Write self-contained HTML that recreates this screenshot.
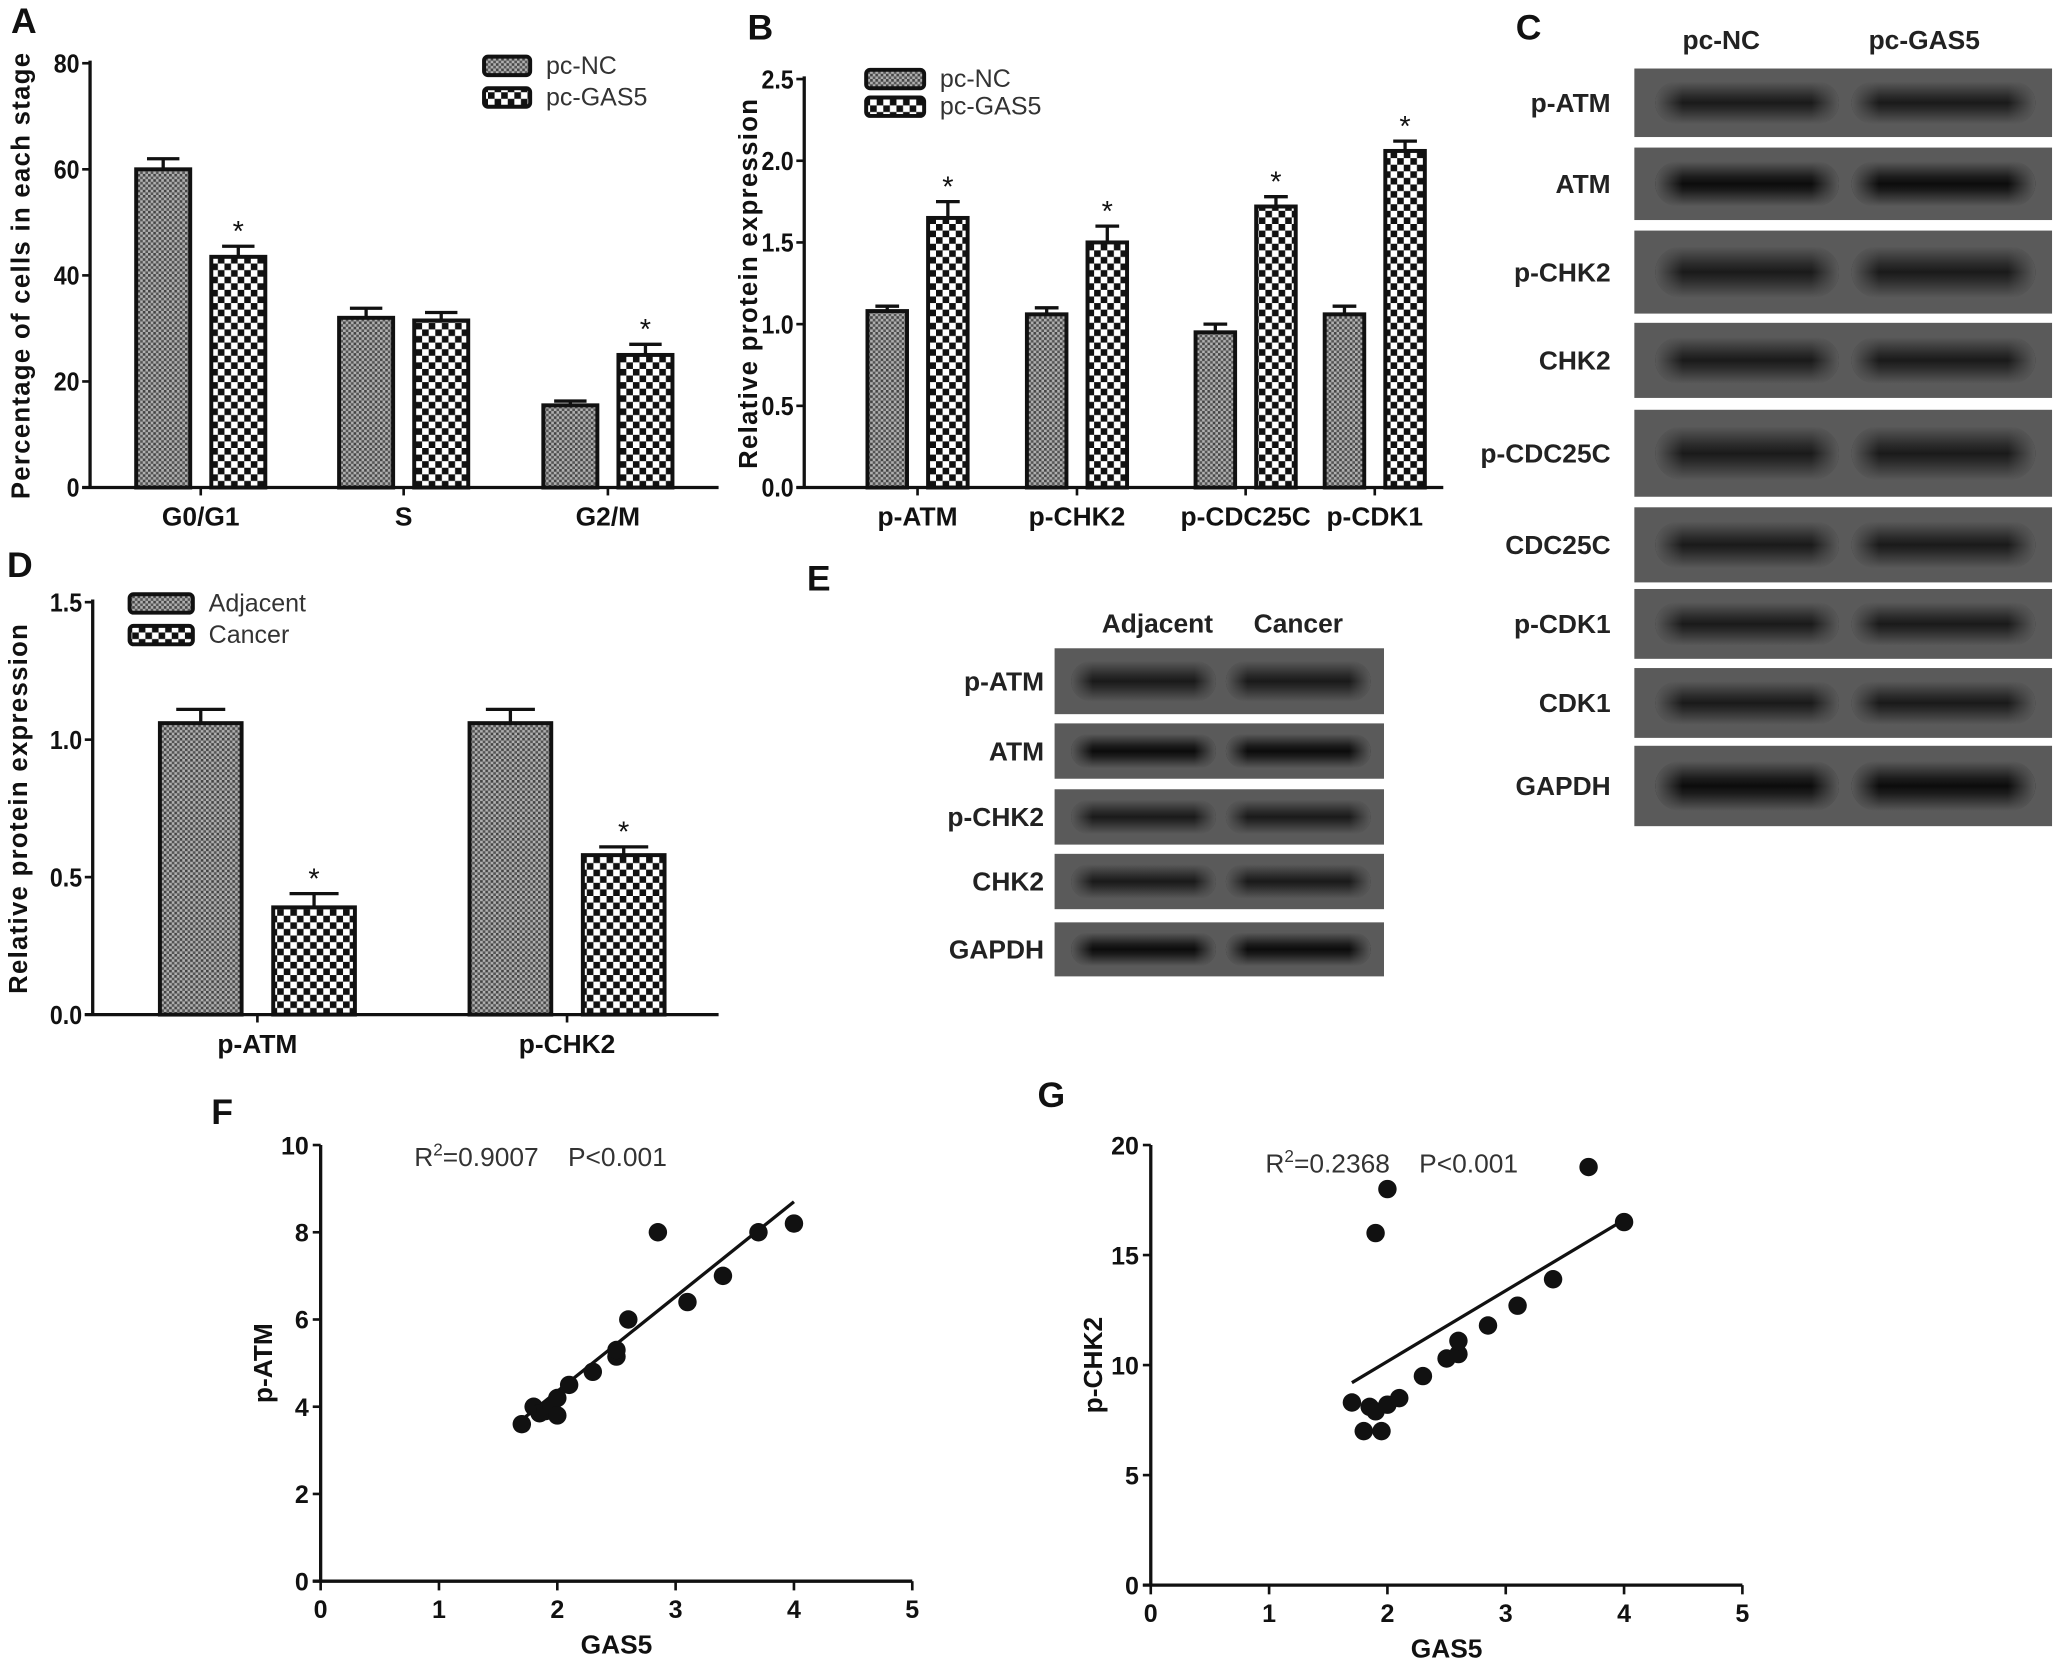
<!DOCTYPE html>
<html><head><meta charset="utf-8"><style>
html,body{margin:0;padding:0;background:#fff;}
svg{display:block;font-family:"Liberation Sans",Arial,sans-serif;}
</style></head><body>
<svg id="fig" width="2067" height="1680" viewBox="0 0 1568 1275" xmlns="http://www.w3.org/2000/svg">
<defs>
<pattern id="pNC" width="4" height="4" patternUnits="userSpaceOnUse"><rect width="4" height="4" fill="#b0b0b0"/><rect width="2" height="2" fill="#444"/><rect x="2" y="2" width="2" height="2" fill="#555"/></pattern>
<pattern id="pGA" width="10" height="10" patternUnits="userSpaceOnUse"><rect width="10" height="10" fill="#fff"/><rect width="5" height="5" fill="#111"/><rect x="5" y="5" width="5" height="5" fill="#111"/></pattern>
<linearGradient id="bandV" x1="0" y1="0" x2="0" y2="1"><stop offset="0" stop-color="#5a5a5a"/><stop offset="0.35" stop-color="#2a2a2a"/><stop offset="0.5" stop-color="#1a1a1a"/><stop offset="0.65" stop-color="#2a2a2a"/><stop offset="1" stop-color="#5a5a5a"/></linearGradient>
<linearGradient id="bandH" x1="0" y1="0" x2="1" y2="0"><stop offset="0" stop-color="#5a5a5a" stop-opacity="1"/><stop offset="0.15" stop-color="#5a5a5a" stop-opacity="0"/><stop offset="0.85" stop-color="#5a5a5a" stop-opacity="0"/><stop offset="1" stop-color="#5a5a5a" stop-opacity="1"/></linearGradient>
<linearGradient id="bandVd" x1="0" y1="0" x2="0" y2="1"><stop offset="0" stop-color="#5a5a5a"/><stop offset="0.35" stop-color="#1c1c1c"/><stop offset="0.5" stop-color="#0c0c0c"/><stop offset="0.65" stop-color="#1c1c1c"/><stop offset="1" stop-color="#5a5a5a"/></linearGradient>
</defs>
</svg>
<script>
// ---- data ----
const aCats = ["G0/G1","S","G2/M"];
const aNC = [60,32,15.5];
const aNCerr = [2,1.8,0.8];
const aGA = [43.5,31.5,25];
const aGAerr = [2,1.5,2];
const aSig = [true,false,true];
const aTicks = [0,20,40,60,80];

const bCats = ["p-ATM","p-CHK2","p-CDC25C","p-CDK1"];
const bNC = [1.08,1.06,0.95,1.06];
const bNCerr = [0.03,0.04,0.05,0.05];
const bGA = [1.65,1.5,1.72,2.06];
const bGAerr = [0.1,0.1,0.06,0.06];
const bTicks = [0,0.5,1.0,1.5,2.0,2.5];

const dCats = ["p-ATM","p-CHK2"];
const dAdj = [1.06,1.06];
const dAdjErr = [0.05,0.05];
const dCan = [0.39,0.58];
const dCanErr = [0.05,0.03];
const dTicks = [0,0.5,1.0,1.5];

const fX = [1.7,1.8,1.85,1.9,1.95,2,2,2.1,2.3,2.5,2.5,2.6,2.85,3.1,3.4,3.7,4];
const fY = [3.6,4,3.85,3.9,4,4.2,3.8,4.5,4.8,5.15,5.3,6,8,6.4,7,8,8.2];
const fLine = [[1.7,3.7],[4,8.7]];
const fYTicks = [0,2,4,6,8,10];
const gX = [1.7,1.8,1.85,1.9,1.9,1.95,2,2,2.1,2.3,2.5,2.6,2.6,2.85,3.1,3.4,3.7,4];
const gY = [8.3,7,8.1,16,7.9,7,18,8.2,8.5,9.5,10.3,10.5,11.1,11.8,12.7,13.9,19,16.5];
const gLine = [[1.7,9.2],[4,16.6]];
const gYTicks = [0,5,10,15,20];
const xTicksSc = [0,1,2,3,4,5];

const cRows = ["p-ATM","ATM","p-CHK2","CHK2","p-CDC25C","CDC25C","p-CDK1","CDK1","GAPDH"];
const eRows = ["p-ATM","ATM","p-CHK2","CHK2","GAPDH"];

// ---- helpers ----
const NS="http://www.w3.org/2000/svg";
const svg=document.getElementById('fig');
function el(tag,attrs,parent){const e=document.createElementNS(NS,tag);for(const k in attrs)e.setAttribute(k,attrs[k]);(parent||svg).appendChild(e);return e;}
function txt(s,x,y,size,opts,parent){const e=el('text',Object.assign({x:x,y:y,'font-size':size,fill:'#111'},opts||{}),parent);e.textContent=s;return e;}
function grp(name){const g=el('g',{});return g;}

function barChart(cfg){
  const g=grp(cfg.name);
  const ys=v=>cfg.y0-(v-cfg.ymin)*(cfg.y0-cfg.y1)/(cfg.ymax-cfg.ymin);
  const ya=el('line',{x1:cfg.ax,y1:cfg.y1-2,x2:cfg.ax,y2:cfg.y0,stroke:'#111','stroke-width':2.5},g);
  
  const xa=el('line',{x1:cfg.ax-6,y1:cfg.y0,x2:cfg.axEnd,y2:cfg.y0,stroke:'#111','stroke-width':2.5},g);
  
  cfg.ticks.forEach(t=>{
    const y=ys(t);
    el('line',{x1:cfg.ax-6,y1:y,x2:cfg.ax,y2:y,stroke:'#111','stroke-width':2},g);
    const tl=txt(cfg.fmt(t),cfg.ax-8,y+7,20,{'text-anchor':'end','font-weight':'bold',transform:`translate(${cfg.ax-8} ${y}) scale(0.88 1) translate(${-(cfg.ax-8)} ${-y})`},g);
    
  });
  const yt=txt(cfg.ytitle,0,0,19.5,{'text-anchor':'middle','font-weight':'bold','letter-spacing':'1',transform:`translate(${cfg.ytx} ${(cfg.y0+cfg.y1)/2}) rotate(-90)`},g);
  
  cfg.cats.forEach((c,i)=>{
    const cx=cfg.cx[i];
    el('line',{x1:cx,y1:cfg.y0,x2:cx,y2:cfg.y0+6,stroke:'#111','stroke-width':2},g);
    const cl=txt(c,cx,cfg.y0+29,20,{'text-anchor':'middle','font-weight':'bold'},g);
    
    [[cfg.s1,cfg.e1,'url(#pNC)',-1,cfg.sig1],[cfg.s2,cfg.e2,'url(#pGA)',1,cfg.sig2]].forEach(([s,e,fill,side,sig],k)=>{
      const x=cx+side*cfg.gap-(side<0?cfg.bw:0);
      const top=ys(s[i]);
      const ex=x+cfg.bw/2, et=ys(s[i]+e[i]);
      const eb=el('line',{x1:ex,y1:et,x2:ex,y2:top,stroke:'#111','stroke-width':2.5},g);
      
      el('line',{x1:ex-cfg.bw*0.3,y1:et,x2:ex+cfg.bw*0.3,y2:et,stroke:'#111','stroke-width':2.5},g);
      const r=el('rect',{x:x,y:top,width:cfg.bw,height:cfg.y0-top,fill:fill,stroke:'#111','stroke-width':3},g);
      
      
      if(sig&&sig[i]){const st=txt('*',ex,et-4,22,{'text-anchor':'middle'},g);}
    });
  });
  cfg.legend.forEach((l,i)=>{
    const ly=cfg.ly+i*cfg.lstep;
    const lb=el('rect',{x:cfg.lx,y:ly,width:cfg.lw,height:14,rx:3,fill:i?'url(#pGA)':'url(#pNC)',stroke:'#111','stroke-width':3},g);
    
    const lt=txt(l,cfg.lx+cfg.lw+12,ly+13,19,{fill:'#333'},g);
    
  });
}

barChart({name:'panel-a-chart',ax:68,axEnd:545,y0:370,y1:48,ymin:0,ymax:80,ticks:aTicks,fmt:t=>String(t),
  ytitle:'Percentage of cells in each stage',ytx:22,cats:aCats,cx:[152,306,461],gap:8,bw:41,
  s1:aNC,e1:aNCerr,s2:aGA,e2:aGAerr,sig1:null,sig2:aSig,legend:['pc-NC','pc-GAS5'],lx:367,ly:43,lstep:24,lw:35});
barChart({name:'panel-b-chart',ax:610,axEnd:1095,y0:370,y1:60,ymin:0,ymax:2.5,ticks:bTicks,fmt:t=>t.toFixed(1),
  ytitle:'Relative protein expression',ytx:574,cats:bCats,cx:[696,817,945,1043],gap:8,bw:30,
  s1:bNC,e1:bNCerr,s2:bGA,e2:bGAerr,sig1:null,sig2:[true,true,true,true],legend:['pc-NC','pc-GAS5'],lx:657,ly:53,lstep:21,lw:44});
barChart({name:'panel-d-chart',ax:70,axEnd:545,y0:770,y1:457,ymin:0,ymax:1.5,ticks:dTicks,fmt:t=>t.toFixed(1),
  ytitle:'Relative protein expression',ytx:20,cats:dCats,cx:[195,430],gap:12,bw:62,
  s1:dAdj,e1:dAdjErr,s2:dCan,e2:dCanErr,sig1:null,sig2:[true,true],legend:['Adjacent','Cancer'],lx:98,ly:451,lstep:24,lw:48});

function scatter(cfg){
  const g=grp(cfg.name);
  const xs=v=>cfg.x0+v*(cfg.x1-cfg.x0)/5;
  const ys=v=>cfg.y0-v*(cfg.y0-cfg.y1)/cfg.ymax;
  const ya=el('line',{x1:cfg.x0,y1:cfg.y1,x2:cfg.x0,y2:cfg.y0,stroke:'#111','stroke-width':2.5},g);
  
  const xa=el('line',{x1:cfg.x0-6,y1:cfg.y0,x2:cfg.x1,y2:cfg.y0,stroke:'#111','stroke-width':2.5},g);
  
  cfg.yt.forEach(t=>{const y=ys(t);el('line',{x1:cfg.x0-6,y1:y,x2:cfg.x0,y2:y,stroke:'#111','stroke-width':2},g);
    const l=txt(String(t),cfg.x0-9,y+7,19,{'text-anchor':'end','font-weight':'bold'},g);});
  xTicksSc.forEach(t=>{const x=xs(t);el('line',{x1:x,y1:cfg.y0,x2:x,y2:cfg.y0+7,stroke:'#111','stroke-width':2},g);
    const l=txt(String(t),x,cfg.y0+28,19,{'text-anchor':'middle','font-weight':'bold'},g);});
  const xt=txt('GAS5',(cfg.x0+cfg.x1)/2,cfg.y0+55,20,{'text-anchor':'middle','font-weight':'bold'},g);
  
  const yt=txt(cfg.ytitle,0,0,20,{'text-anchor':'middle','font-weight':'bold',transform:`translate(${cfg.x0-37} ${(cfg.y0+cfg.y1)/2}) rotate(-90)`},g);
  
  const fl=el('line',{x1:xs(cfg.line[0][0]),y1:ys(cfg.line[0][1]),x2:xs(cfg.line[1][0]),y2:ys(cfg.line[1][1]),stroke:'#111','stroke-width':2.5},g);
  
  cfg.xd.forEach((x,i)=>{const c=el('circle',{cx:xs(x),cy:ys(cfg.yd[i]),r:7,fill:'#111'},g);});
  const st=el('text',{x:cfg.sx,y:cfg.sy,'font-size':20,fill:'#333'},g);
  st.innerHTML=`R<tspan dy="-8" font-size="13">2</tspan><tspan dy="8">=${cfg.r2}&#160;&#160;&#160;&#160;P&lt;0.001</tspan>`;
  
}
scatter({name:'panel-f-scatter',x0:243,x1:692,y0:1200,y1:869,ymax:10,yt:fYTicks,xd:fX,yd:fY,line:fLine,ytitle:'p-ATM',r2:'0.9007',sx:314,sy:885});
scatter({name:'panel-g-scatter',x0:873,x1:1322,y0:1203,y1:869,ymax:20,yt:gYTicks,xd:gX,yd:gY,line:gLine,ytitle:'p-CHK2',r2:'0.2368',sx:960,sy:890});

function blot(name,rows,x,w,ys,labelX,headers,hy){
  const g=grp(name);
  headers.forEach(h=>{const t=txt(h[0],h[1],hy,20,{'text-anchor':'middle','font-weight':'bold','fill':'#222'},g);});
  rows.forEach((r,i)=>{
    const [y0,y1]=ys[i];
    const bg=el('rect',{x:x,y:y0,width:w,height:y1-y0,fill:'#5a5a5a'},g);
    
    const grad=(r==='GAPDH'||r==='ATM')?'url(#bandVd)':'url(#bandV)';
    const h=(y1-y0)*0.62;
    [0,1].forEach(k=>{const bx=x+w*(k?0.52:0.05),bw=w*0.44;
      const e=el('rect',{x:bx,y:(y0+y1)/2-h/2,width:bw,height:h,rx:h/2,fill:grad},g);
      
      el('rect',{x:bx,y:(y0+y1)/2-h/2,width:bw,height:h,rx:h/2,fill:'url(#bandH)'},g);});
    const l=txt(r,labelX,(y0+y1)/2+7,20,{'text-anchor':'end','font-weight':'bold','fill':'#222'},g);
    
  });
}
blot('panel-c-blot',cRows,1240,317,[[52,104],[112,167],[175,238],[245,302],[311,377],[385,442],[447,500],[507,560],[566,627]],1222,[['pc-NC',1306],['pc-GAS5',1460]],37);
blot('panel-e-blot',eRows,800,250,[[492,542],[549,591],[599,641],[648,690],[700,741]],792,[['Adjacent',878],['Cancer',985]],480);

[['A',8,25],['B',567,30],['C',1150,30],['D',5,438],['E',612,448],['F',160,853],['G',787,840]].forEach(([l,x,y])=>{
  const t=txt(l,x,y,27,{'font-weight':'bold'});
  
  
});
</script>
</body></html>
